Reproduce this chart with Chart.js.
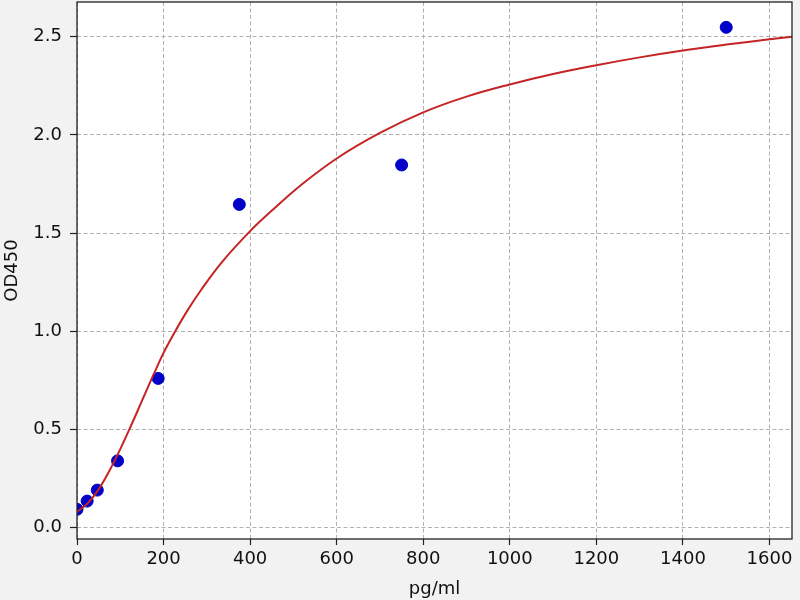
<!DOCTYPE html>
<html>
<head>
<meta charset="utf-8">
<script src="https://cdn.jsdelivr.net/npm/chart.js@4.4.1/dist/chart.umd.min.js"></script>
<style>
  html, body { margin: 0; padding: 0; background: #f2f2f2; }
  #wrap { width: 800px; height: 600px; }
</style>
</head>
<body>
<div id="wrap"><canvas id="myChart" width="800" height="600"></canvas></div>
<script>
// standards (measured points)
var stdConc = [0, 23.44, 46.88, 93.75, 187.5, 375, 750, 1500];
var stdOD = [0.093, 0.135, 0.191, 0.340, 0.760, 1.646, 1.847, 2.548];

// fitted curve
var fitConc = [0, 25, 50, 75, 100, 125, 150, 177, 200, 227, 255, 285, 334, 400, 453, 515, 600, 700, 800, 900, 1000, 1100, 1200, 1300, 1400, 1500, 1600, 1652];
var fitOD = [0.08, 0.125, 0.195, 0.29, 0.40, 0.52, 0.645, 0.78, 0.89, 1.00, 1.105, 1.205, 1.35, 1.51, 1.62, 1.74, 1.88, 2.01, 2.115, 2.195, 2.257, 2.31, 2.355, 2.395, 2.43, 2.46, 2.487, 2.50];

var xTicks = [0, 200, 400, 600, 800, 1000, 1200, 1400, 1600];
var yTicks = [0, 0.5, 1.0, 1.5, 2.0, 2.5];

document.addEventListener('DOMContentLoaded', function() {
    var font = { family: 'DejaVu Sans', size: 18 };

    // gray figure background, white plot area, black frame
    var frame = {
        id: 'frame',
        beforeDraw: function(chart) {
            var c = chart.ctx, a = chart.chartArea;
            c.save();
            c.fillStyle = '#f2f2f2';
            c.fillRect(0, 0, chart.width, chart.height);
            c.fillStyle = '#ffffff';
            c.fillRect(a.left, a.top, a.right - a.left, a.bottom - a.top);
            c.restore();
        },
        afterDraw: function(chart) {
            var c = chart.ctx, a = chart.chartArea;
            c.save();
            c.strokeStyle = '#222';
            c.lineWidth = 1.3;
            c.strokeRect(a.left, a.top, a.right - a.left, a.bottom - a.top);
            c.restore();
        }
    };

    var ctx = document.getElementById('myChart').getContext('2d');
    var myChart = new Chart(ctx, {
        type: 'scatter',
        data: {
            datasets: [{
                label: 'fit',
                type: 'line',
                data: fitConc.map(function(x, i) { return { x: x, y: fitOD[i] }; }),
                borderColor: '#c42424',
                borderWidth: 2,
                pointRadius: 0,
                fill: false,
                tension: 0.4,
                clip: 0,
                order: 0
            }, {
                label: 'standards',
                data: stdConc.map(function(x, i) { return { x: x, y: stdOD[i] }; }),
                backgroundColor: '#0000c8',
                borderColor: '#0000c8',
                pointRadius: 6,
                pointHoverRadius: 6,
                clip: 0,
                order: 1
            }]
        },
        options: {
            responsive: false,
            animation: false,
            devicePixelRatio: 1,
            layout: {
                autoPadding: false,
                padding: { left: 0, right: 8, top: 2, bottom: 0 }
            },
            plugins: {
                legend: { display: false },
                tooltip: { enabled: false }
            },
            scales: {
                x: {
                    type: 'linear',
                    min: 0,
                    max: 1652,
                    afterBuildTicks: function(scale) {
                        scale.ticks = xTicks.map(function(v) { return { value: v }; });
                    },
                    afterFit: function(scale) {
                        scale.height = 61;
                        scale.paddingLeft = 0;
                        scale.paddingRight = 0;
                    },
                    ticks: {
                        font: font,
                        color: '#111',
                        padding: 4,
                        maxRotation: 0,
                        autoSkip: false,
                        callback: function(v) { return String(v); }
                    },
                    grid: {
                        color: '#b0b0b0',
                        lineWidth: 1,
                        tickLength: 6,
                        tickColor: '#222',
                        tickWidth: 1.2,
                        tickBorderDash: []
                    },
                    border: { display: false, dash: [4, 2.5] },
                    title: {
                        display: true,
                        text: 'pg/ml',
                        font: font,
                        color: '#111',
                        padding: { top: 0, bottom: 0 }
                    }
                },
                y: {
                    type: 'linear',
                    min: -0.058,
                    max: 2.677,
                    afterBuildTicks: function(scale) {
                        scale.ticks = yTicks.map(function(v) { return { value: v }; });
                    },
                    afterFit: function(scale) {
                        scale.width = 77;
                        scale.paddingTop = 0;
                        scale.paddingBottom = 0;
                    },
                    ticks: {
                        font: font,
                        color: '#111',
                        padding: 8,
                        callback: function(v) { return v.toFixed(1); }
                    },
                    grid: {
                        color: '#b0b0b0',
                        lineWidth: 1,
                        tickLength: 7,
                        tickColor: '#222',
                        tickWidth: 1.2,
                        tickBorderDash: []
                    },
                    border: { display: false, dash: [4, 2.5] },
                    title: {
                        display: true,
                        text: 'OD450',
                        font: font,
                        color: '#111',
                        padding: { top: 2, bottom: 0 }
                    }
                }
            }
        },
        plugins: [frame]
    });
});
</script>
</body>
</html>
